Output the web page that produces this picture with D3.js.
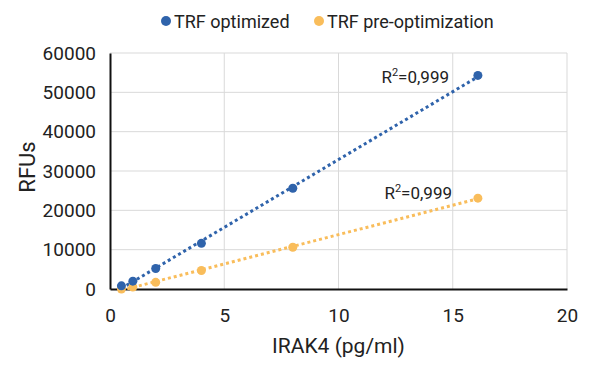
<!DOCTYPE html>
<html>
<head>
<meta charset="utf-8">
<script src="https://cdn.jsdelivr.net/npm/d3@7"></script>
<style>
  body { margin: 0; background: #fff; }
  svg { font-family: Roboto, "Noto Sans", sans-serif; }
</style>
</head>
<body>
<div id="vis"></div>
<script>
const FRAME_WIDTH = 600;
const FRAME_HEIGHT = 370;
const MARGINS = {left: 110, right: 33, top: 53, bottom: 81};

// concentrations (pg/ml)
const conc = [0.5, 1, 2, 4, 8, 16.1];
const optimized = [800, 2000, 5200, 11600, 25600, 54300];
const preOpt = [0, 500, 1700, 4700, 10600, 23100];
const seriesNames = ["TRF optimized", "TRF pre-optimization"];
const colors = ["#2f63ab", "#f9bd5b"];
const xTicks = [0, 5, 10, 15, 20];
const yTicks = [0, 10000, 20000, 30000, 40000, 50000, 60000];
const r2Labels = ["0,999", "0,999"];

const VIS_WIDTH = FRAME_WIDTH - MARGINS.left - MARGINS.right;
const VIS_HEIGHT = FRAME_HEIGHT - MARGINS.top - MARGINS.bottom;

const svg = d3.select("#vis").append("svg")
  .attr("width", FRAME_WIDTH)
  .attr("height", FRAME_HEIGHT);

const X_SCALE = d3.scaleLinear().domain([0, 20]).range([MARGINS.left, MARGINS.left + VIS_WIDTH]);
const Y_SCALE = d3.scaleLinear().domain([0, 60000]).range([MARGINS.top + VIS_HEIGHT, MARGINS.top]);

// gridlines
svg.append("g").selectAll("line.h")
  .data(yTicks.slice(1))
  .enter().append("line")
    .attr("x1", X_SCALE(0)).attr("x2", X_SCALE(20))
    .attr("y1", d => Y_SCALE(d)).attr("y2", d => Y_SCALE(d))
    .attr("stroke", "#d9d9d9").attr("stroke-width", 1);
svg.append("g").selectAll("line.v")
  .data(xTicks.slice(1))
  .enter().append("line")
    .attr("x1", d => X_SCALE(d)).attr("x2", d => X_SCALE(d))
    .attr("y1", Y_SCALE(0)).attr("y2", Y_SCALE(60000))
    .attr("stroke", "#d9d9d9").attr("stroke-width", 1);

// axes
const xAxis = svg.append("g")
  .attr("transform", "translate(0," + Y_SCALE(0) + ")")
  .call(d3.axisBottom(X_SCALE).tickValues(xTicks).tickSize(0).tickPadding(20));
const yAxis = svg.append("g")
  .attr("transform", "translate(" + X_SCALE(0) + ",0)")
  .call(d3.axisLeft(Y_SCALE).tickValues(yTicks).tickSize(0).tickPadding(14).tickFormat(d3.format("d")));
[xAxis, yAxis].forEach(a => {
  a.select(".domain").attr("stroke", "#111").attr("stroke-width", 2);
  a.selectAll("text").attr("font-size", "19px").attr("fill", "#222")
    .attr("font-family", "Roboto, sans-serif");
});

// axis titles
svg.append("text")
  .attr("x", (X_SCALE(0) + X_SCALE(20)) / 2).attr("y", 353)
  .attr("text-anchor", "middle").attr("font-size", "21px").attr("fill", "#222")
  .text("IRAK4 (pg/ml)");
svg.append("text")
  .attr("transform", "translate(35," + ((Y_SCALE(0) + Y_SCALE(60000)) / 2 - 4) + ") rotate(-90)")
  .attr("text-anchor", "middle").attr("font-size", "22px").attr("fill", "#222")
  .text("RFUs");

// linear fit
function fit(xs, ys) {
  const mx = d3.mean(xs), my = d3.mean(ys);
  const sxy = d3.sum(xs, (x, i) => (x - mx) * (ys[i] - my));
  const sxx = d3.sum(xs, x => (x - mx) * (x - mx));
  const b = sxy / sxx;
  return {a: my - b * mx, b: b};
}

const series = [optimized, preOpt];
series.forEach((vals, i) => {
  const f = fit(conc, vals);
  const x0 = d3.min(conc), x1 = d3.max(conc);
  svg.append("line")
    .attr("x1", X_SCALE(x0)).attr("y1", Y_SCALE(f.a + f.b * x0))
    .attr("x2", X_SCALE(x1)).attr("y2", Y_SCALE(f.a + f.b * x1))
    .attr("stroke", colors[i]).attr("stroke-width", 3)
    .attr("stroke-dasharray", "3,3");
});
series.slice().reverse().forEach((vals, k) => {
  const i = 1 - k;
  svg.append("g").selectAll("circle")
    .data(vals)
    .enter().append("circle")
      .attr("cx", (d, j) => X_SCALE(conc[j]))
      .attr("cy", d => Y_SCALE(d))
      .attr("r", 4.5)
      .attr("fill", colors[i]);
});

// R² labels
const r2Pos = [[449, 83], [452, 199]];
r2Labels.forEach((t, i) => {
  const txt = svg.append("text")
    .attr("x", r2Pos[i][0]).attr("y", r2Pos[i][1])
    .attr("text-anchor", "end").attr("font-size", "17px").attr("fill", "#222");
  txt.append("tspan").text("R");
  txt.append("tspan").attr("dy", -7).attr("font-size", "11px").text("2");
  txt.append("tspan").attr("dy", 7).text("=" + t);
});

// legend
const legendX = [166, 319];
seriesNames.forEach((name, i) => {
  svg.append("circle").attr("cx", legendX[i]).attr("cy", 21).attr("r", 5).attr("fill", colors[i]);
  svg.append("text").attr("x", legendX[i] + 8).attr("y", 28)
    .attr("font-size", "18px").attr("fill", "#222").text(name);
});
</script>
</body>
</html>
